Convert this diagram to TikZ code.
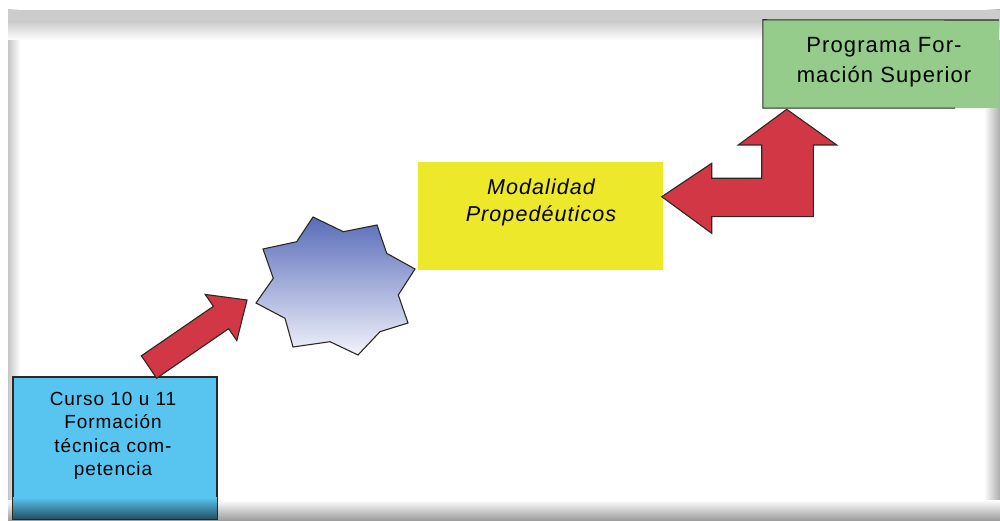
\documentclass[tikz,border=0pt]{standalone}
\usepackage{fontspec}
\setmainfont{Liberation Sans}[LetterSpace=5]
\definecolor{boxblue}{RGB}{88,196,240}
\definecolor{boxyellow}{RGB}{237,232,42}
\definecolor{boxgreen}{RGB}{149,204,139}
\definecolor{arrowred}{RGB}{210,55,70}
\definecolor{edgedark}{RGB}{45,40,35}
\definecolor{startop}{RGB}{88,108,185}
\definecolor{starbot}{RGB}{242,243,251}
\begin{document}
\begin{tikzpicture}[x=1pt,y=-1pt,
  boxshape/.style={draw=edgedark, line width=1.1pt, inner sep=0pt},
  blockarrow/.style={fill=arrowred, draw=edgedark, line width=1.1pt, line join=miter},
  label/.style={align=center, inner sep=0pt, text=black}]
\useasboundingbox (0,0) rectangle (1000,521);
% frame with soft inner shadow
\fill[white] (0,0) rectangle (1000,521);
\shade[left color=gray!45, right color=white] (8,10) rectangle (20,521);
\shade[left color=white, right color=gray!65] (984,10) rectangle (1000,521);
\shade[top color=white, bottom color=gray!80] (8,500) rectangle (1000,521);
\fill[gray!40] (8,10) rectangle (1000,22);
\shade[top color=gray!40, bottom color=white] (8,22) rectangle (1000,40);
% green box (top right)
\fill[boxgreen] (763,20) rectangle (999,108);
\node[inner sep=0pt, minimum width=192, minimum height=88] (prog) at (859,64) {};
\draw[edgedark, line width=1.1pt] (prog.south east) -- (prog.south west) -- (prog.north west) -- (999,20);
\node[label, font=\fontsize{22}{30}\selectfont] (progtxt) at (884,62) {Programa For-\\mación Superior};
% yellow box
\node[fill=boxyellow, inner sep=0pt, minimum width=245, minimum height=108] (modal) at (540.5,216) {};
\node[label, font=\fontsize{21.5}{27}\selectfont\itshape] (modaltxt) at (541,202) {Modalidad\\Propedéuticos};
% blue box
\node[boxshape, fill=boxblue, minimum width=204, minimum height=142] (curso) at (115,448) {};
\shade[top color=boxblue, bottom color=black!60!boxblue] ([xshift=0.6pt,yshift=22pt]curso.south west) rectangle ([xshift=-0.6pt,yshift=0.6pt]curso.south east);
\node[label, font=\fontsize{19}{23.5}\selectfont] (cursotxt) at (113,436) {Curso 10 u 11\\Formación\\técnica com-\\petencia};
% star
\coordinate (starc) at (335,286);
\shade[top color=startop, bottom color=starbot, draw=edgedark, line width=1.1pt]
 (313,217) -- (343.3,231.7) -- (377,225) -- (386.7,253.3) -- (415,269) -- (398.3,295) -- (408,323) -- (380,331.7) -- (358,355) -- (330,341.7) -- (293,347) -- (285,318.3) -- (256,303) -- (273.3,278.3) -- (263,249) -- (296.7,241.7) -- cycle;
% arrow from blue box to star
\filldraw[blockarrow] (141.4,355.8) -- (213.4,306.3) -- (205.2,294.4) -- (247,300) -- (236.8,340.6) -- (228.6,328.7) -- (156.6,378.2) -- cycle;
% bent double arrow between yellow and green boxes
\filldraw[blockarrow] (661.7,196.7) -- (711.7,163.3) -- (711.7,178.3) -- (761.7,178.3) -- (761.7,145) -- (738.3,145) -- (786.7,109.3) -- (836.7,145) -- (813.3,145) -- (813.3,216.7) -- (711.7,216.7) -- (711.7,233.3) -- cycle;
\end{tikzpicture}
\end{document}
